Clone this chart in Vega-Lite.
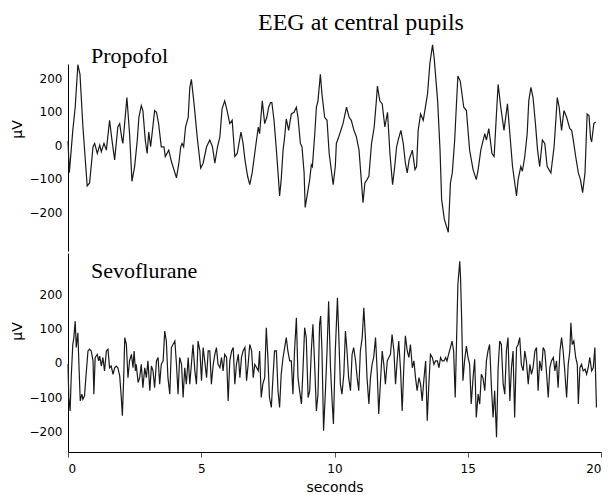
{
"$schema":"https://vega.github.io/schema/vega-lite/v6.json",
"background":"white",
"padding":{"left":10,"top":11,"right":4,"bottom":0},
"title":{"text":"EEG at central pupils","font":"Liberation Serif","fontSize":24,"fontWeight":"normal","color":"#000","anchor":"start","frame":"bounds","dx":248,"offset":7},
"config":{"view":{"stroke":null},"axis":{"labelFont":"DejaVu Sans","labelFontSize":12,"labelColor":"#000","titleFont":"DejaVu Sans","titleFontWeight":"normal","titleColor":"#000","domainColor":"#000","domainWidth":1,"grid":false}},
"datasets":{
"propofol":[
{"t":0,"v":12},{"t":0.05,"v":-82},{"t":0.18,"v":44},{"t":0.27,"v":113},{"t":0.37,"v":240},{"t":0.45,"v":211},{"t":0.56,"v":54},{"t":0.72,"v":-122},{"t":0.81,"v":-113},{"t":0.94,"v":-5},{"t":1.00,"v":5},{"t":1.10,"v":-25},{"t":1.19,"v":0},{"t":1.25,"v":-20},{"t":1.35,"v":5},{"t":1.44,"v":-15},{"t":1.56,"v":74},{"t":1.65,"v":15},{"t":1.75,"v":-44},{"t":1.87,"v":54},{"t":1.94,"v":64},{"t":2.03,"v":15},{"t":2.06,"v":5},{"t":2.21,"v":142},{"t":2.31,"v":34},{"t":2.40,"v":-108},{"t":2.50,"v":-64},{"t":2.60,"v":15},{"t":2.66,"v":83},{"t":2.75,"v":118},{"t":2.81,"v":103},{"t":2.90,"v":15},{"t":2.97,"v":-25},{"t":3.03,"v":39},{"t":3.10,"v":-5},{"t":3.19,"v":59},{"t":3.25,"v":103},{"t":3.32,"v":98},{"t":3.40,"v":64},{"t":3.50,"v":-5},{"t":3.60,"v":-5},{"t":3.65,"v":-34},{"t":3.78,"v":-15},{"t":3.88,"v":-49},{"t":4.07,"v":-98},{"t":4.16,"v":-54},{"t":4.23,"v":-5},{"t":4.28,"v":5},{"t":4.34,"v":-5},{"t":4.41,"v":54},{"t":4.51,"v":83},{"t":4.57,"v":172},{"t":4.63,"v":196},{"t":4.73,"v":123},{"t":4.86,"v":15},{"t":4.98,"v":-69},{"t":5.07,"v":-54},{"t":5.20,"v":-5},{"t":5.32,"v":15},{"t":5.42,"v":-5},{"t":5.51,"v":-54},{"t":5.61,"v":-5},{"t":5.70,"v":25},{"t":5.78,"v":108},{"t":5.88,"v":132},{"t":5.97,"v":103},{"t":6.07,"v":64},{"t":6.16,"v":74},{"t":6.26,"v":-34},{"t":6.35,"v":-25},{"t":6.49,"v":39},{"t":6.57,"v":5},{"t":6.64,"v":-44},{"t":6.74,"v":-93},{"t":6.82,"v":-118},{"t":6.91,"v":-83},{"t":7.04,"v":-5},{"t":7.14,"v":54},
{"t":7.19,"v":34},{"t":7.23,"v":74},{"t":7.29,"v":132},{"t":7.38,"v":64},{"t":7.46,"v":83},{"t":7.53,"v":113},{"t":7.60,"v":127},{"t":7.65,"v":127},{"t":7.73,"v":74},{"t":7.82,"v":-15},{"t":7.90,"v":-103},{"t":7.94,"v":-152},{"t":8.00,"v":-103},{"t":8.07,"v":-15},{"t":8.13,"v":25},{"t":8.19,"v":78},{"t":8.28,"v":44},{"t":8.38,"v":93},{"t":8.48,"v":98},{"t":8.57,"v":113},{"t":8.63,"v":83},{"t":8.72,"v":5},{"t":8.78,"v":-5},{"t":8.86,"v":-83},{"t":8.90,"v":-186},{"t":9.01,"v":-132},{"t":9.07,"v":-103},{"t":9.13,"v":-59},{"t":9.17,"v":-64},{"t":9.26,"v":34},{"t":9.32,"v":113},{"t":9.38,"v":132},{"t":9.47,"v":211},{"t":9.53,"v":152},{"t":9.63,"v":83},{"t":9.72,"v":74},{"t":9.80,"v":-25},{"t":9.95,"v":-118},{"t":10.03,"v":-64},{"t":10.07,"v":5},{"t":10.16,"v":25},{"t":10.32,"v":64},{"t":10.45,"v":113},{"t":10.55,"v":83},{"t":10.63,"v":74},{"t":10.73,"v":44},{"t":10.82,"v":25},{"t":10.92,"v":-15},{"t":11.07,"v":-172},{"t":11.14,"v":-113},{"t":11.22,"v":-103},{"t":11.29,"v":-93},{"t":11.39,"v":5},{"t":11.49,"v":54},{"t":11.57,"v":132},{"t":11.61,"v":176},{"t":11.70,"v":132},{"t":11.79,"v":123},{"t":11.89,"v":54},{"t":11.99,"v":98},{"t":12.08,"v":-25},{"t":12.18,"v":-118},{"t":12.26,"v":-64},{"t":12.33,"v":-5},{"t":12.39,"v":15},{"t":12.49,"v":44},{"t":12.58,"v":5},{"t":12.66,"v":-54},{"t":12.73,"v":-83},{"t":12.80,"v":-44},{"t":12.92,"v":-15},{"t":13.02,"v":-73},{"t":13.08,"v":-64},{"t":13.14,"v":44},{"t":13.23,"v":93},{"t":13.33,"v":74},{"t":13.39,"v":103},{"t":13.49,"v":152},{"t":13.58,"v":245},{"t":13.68,"v":299},{"t":13.74,"v":260},{"t":13.87,"v":132},{"t":13.96,"v":-15},{"t":14.02,"v":-162},{"t":14.12,"v":-221},{"t":14.27,"v":-260},
{"t":14.35,"v":-113},{"t":14.42,"v":-83},{"t":14.51,"v":15},{"t":14.57,"v":113},{"t":14.63,"v":206},{"t":14.72,"v":191},{"t":14.85,"v":113},{"t":14.95,"v":103},{"t":15.07,"v":-15},{"t":15.20,"v":-73},{"t":15.32,"v":-103},{"t":15.39,"v":-73},{"t":15.49,"v":-15},{"t":15.55,"v":5},{"t":15.64,"v":34},{"t":15.70,"v":15},{"t":15.79,"v":49},{"t":15.91,"v":-25},{"t":15.99,"v":-34},{"t":16.07,"v":83},{"t":16.14,"v":181},{"t":16.24,"v":113},{"t":16.36,"v":44},{"t":16.49,"v":123},{"t":16.58,"v":34},{"t":16.68,"v":-64},{"t":16.83,"v":-152},{"t":16.89,"v":-103},{"t":16.99,"v":-64},{"t":17.05,"v":-78},{"t":17.14,"v":-34},{"t":17.23,"v":34},{"t":17.29,"v":132},{"t":17.37,"v":172},{"t":17.45,"v":142},{"t":17.54,"v":64},{"t":17.62,"v":-15},{"t":17.70,"v":-64},{"t":17.80,"v":15},{"t":17.89,"v":5},{"t":17.98,"v":-64},{"t":18.12,"v":-83},{"t":18.24,"v":-5},{"t":18.36,"v":142},{"t":18.43,"v":113},{"t":18.52,"v":44},{"t":18.61,"v":103},{"t":18.71,"v":83},{"t":18.83,"v":49},{"t":18.90,"v":44},{"t":18.96,"v":15},{"t":19.05,"v":-34},{"t":19.15,"v":-83},{"t":19.23,"v":-103},{"t":19.31,"v":-142},{"t":19.40,"v":-83},{"t":19.48,"v":93},{"t":19.55,"v":88},{"t":19.61,"v":20},{"t":19.65,"v":10},{"t":19.73,"v":64},{"t":19.80,"v":69}
],
"sevo":[
{"t":0.00,"v":-4},{"t":0.03,"v":-101},{"t":0.08,"v":-140},{"t":0.12,"v":-43},{"t":0.18,"v":54},{"t":0.22,"v":74},{"t":0.27,"v":122},{"t":0.31,"v":45},{"t":0.37,"v":88},{"t":0.41,"v":-4},{"t":0.46,"v":-111},{"t":0.52,"v":-91},{"t":0.56,"v":-106},{"t":0.62,"v":-96},{"t":0.68,"v":-33},{"t":0.75,"v":35},{"t":0.81,"v":40},{"t":0.87,"v":35},{"t":0.94,"v":6},{"t":0.97,"v":-91},{"t":1.02,"v":16},{"t":1.10,"v":25},{"t":1.15,"v":6},{"t":1.19,"v":20},{"t":1.25,"v":-9},{"t":1.31,"v":16},{"t":1.37,"v":-23},{"t":1.44,"v":35},{"t":1.50,"v":40},{"t":1.56,"v":-14},{"t":1.62,"v":-9},{"t":1.69,"v":-33},{"t":1.75,"v":-14},{"t":1.81,"v":-9},{"t":1.87,"v":-14},{"t":1.94,"v":-38},{"t":2.00,"v":-101},{"t":2.04,"v":-154},{"t":2.09,"v":-43},{"t":2.13,"v":74},{"t":2.19,"v":54},{"t":2.25,"v":-43},{"t":2.31,"v":6},{"t":2.38,"v":25},{"t":2.44,"v":-14},{"t":2.48,"v":35},{"t":2.53,"v":-23},{"t":2.56,"v":-4},{"t":2.63,"v":-57},{"t":2.69,"v":-43},{"t":2.75,"v":-4},{"t":2.81,"v":-72},{"t":2.88,"v":-14},{"t":2.94,"v":-43},{"t":3.00,"v":6},{"t":3.07,"v":-81},{"t":3.13,"v":-9},{"t":3.19,"v":-23},{"t":3.25,"v":-72},{"t":3.32,"v":6},{"t":3.38,"v":16},{"t":3.44,"v":-62},{"t":3.50,"v":-4},{"t":3.57,"v":6},{"t":3.63,"v":93},{"t":3.69,"v":64},{"t":3.75,"v":-43},{"t":3.82,"v":-91},{"t":3.88,"v":45},{"t":3.94,"v":54},{"t":4.01,"v":64},{"t":4.07,"v":-4},{"t":4.13,"v":-91},{"t":4.19,"v":16},{"t":4.26,"v":-4},{"t":4.32,"v":-101},{"t":4.38,"v":-14},{"t":4.44,"v":-62},{"t":4.51,"v":16},{"t":4.57,"v":-62},{"t":4.63,"v":-4},{"t":4.69,"v":54},{"t":4.76,"v":-23},{"t":4.82,"v":-62},{"t":4.88,"v":64},{"t":4.95,"v":35},{"t":5.01,"v":-52},{"t":5.07,"v":45},{"t":5.13,"v":6},{"t":5.20,"v":-43},{"t":5.26,"v":35},{"t":5.32,"v":35},{"t":5.38,"v":-62},{"t":5.45,"v":-4},{"t":5.51,"v":25},{"t":5.57,"v":45},{"t":5.63,"v":-4},{"t":5.70,"v":-14},{"t":5.76,"v":16},{"t":5.82,"v":-23},{"t":5.88,"v":25},{"t":5.95,"v":16},{"t":6.01,"v":-111},{"t":6.07,"v":6},{"t":6.14,"v":35},{"t":6.20,"v":45},{"t":6.26,"v":-62},{"t":6.32,"v":-4},{"t":6.39,"v":25},{"t":6.45,"v":-43},{"t":6.51,"v":16},{"t":6.57,"v":35},{"t":6.64,"v":45},{"t":6.70,"v":-52},{"t":6.76,"v":-4},{"t":6.82,"v":54},{"t":6.89,"v":35},{"t":6.95,"v":-43},{"t":7.01,"v":-4},{"t":7.08,"v":-14},{"t":7.14,"v":-23},
{"t":7.19,"v":35},{"t":7.25,"v":-101},{"t":7.31,"v":-62},{"t":7.38,"v":-43},{"t":7.44,"v":103},{"t":7.50,"v":16},{"t":7.56,"v":-101},{"t":7.63,"v":-130},{"t":7.69,"v":-43},{"t":7.75,"v":35},{"t":7.82,"v":35},{"t":7.88,"v":-81},{"t":7.94,"v":-130},{"t":8.00,"v":-33},{"t":8.07,"v":16},{"t":8.13,"v":45},{"t":8.19,"v":74},{"t":8.25,"v":35},{"t":8.32,"v":6},{"t":8.38,"v":6},{"t":8.44,"v":-91},{"t":8.50,"v":35},{"t":8.57,"v":132},{"t":8.63,"v":-43},{"t":8.69,"v":-81},{"t":8.76,"v":-120},{"t":8.82,"v":-14},{"t":8.88,"v":103},{"t":8.94,"v":74},{"t":9.01,"v":-101},{"t":9.07,"v":-81},{"t":9.13,"v":35},{"t":9.19,"v":113},{"t":9.26,"v":-14},{"t":9.32,"v":-140},{"t":9.38,"v":-91},{"t":9.44,"v":113},{"t":9.48,"v":137},{"t":9.53,"v":35},{"t":9.59,"v":-198},{"t":9.66,"v":-81},{"t":9.72,"v":35},{"t":9.78,"v":180},{"t":9.85,"v":-14},{"t":9.91,"v":-111},{"t":9.96,"v":-178},{"t":10.03,"v":35},{"t":10.11,"v":190},{"t":10.16,"v":83},{"t":10.22,"v":-62},{"t":10.28,"v":-91},{"t":10.35,"v":-33},{"t":10.41,"v":93},{"t":10.47,"v":35},{"t":10.53,"v":-43},{"t":10.60,"v":-81},{"t":10.66,"v":25},{"t":10.72,"v":45},{"t":10.79,"v":6},{"t":10.85,"v":-43},{"t":10.91,"v":-81},{"t":10.97,"v":35},{"t":11.04,"v":74},{"t":11.10,"v":161},{"t":11.16,"v":74},{"t":11.22,"v":-43},{"t":11.29,"v":-120},{"t":11.35,"v":-43},{"t":11.41,"v":-4},{"t":11.47,"v":16},{"t":11.54,"v":74},{"t":11.60,"v":-23},{"t":11.66,"v":-149},{"t":11.72,"v":-62},{"t":11.79,"v":35},{"t":11.85,"v":-4},{"t":11.91,"v":-62},{"t":11.98,"v":6},{"t":12.04,"v":16},{"t":12.10,"v":25},{"t":12.16,"v":83},{"t":12.23,"v":35},{"t":12.29,"v":-62},{"t":12.35,"v":6},{"t":12.41,"v":64},{"t":12.48,"v":-23},{"t":12.54,"v":-140},{"t":12.60,"v":-14},{"t":12.66,"v":79},{"t":12.73,"v":35},{"t":12.79,"v":16},{"t":12.85,"v":54},{"t":12.92,"v":-14},{"t":12.98,"v":6},{"t":13.04,"v":-43},{"t":13.10,"v":-81},{"t":13.17,"v":-43},{"t":13.23,"v":-62},{"t":13.29,"v":-111},{"t":13.35,"v":-52},{"t":13.42,"v":6},{"t":13.48,"v":-169},{"t":13.54,"v":-62},{"t":13.60,"v":25},{"t":13.67,"v":16},{"t":13.73,"v":-4},{"t":13.79,"v":6},{"t":13.86,"v":6},{"t":13.92,"v":-14},{"t":13.98,"v":16},{"t":14.04,"v":6},{"t":14.11,"v":6},{"t":14.17,"v":16},
{"t":14.22,"v":6},{"t":14.28,"v":25},{"t":14.35,"v":45},{"t":14.41,"v":64},{"t":14.47,"v":35},{"t":14.53,"v":-101},{"t":14.60,"v":132},{"t":14.63,"v":229},{"t":14.70,"v":297},{"t":14.73,"v":248},{"t":14.77,"v":132},{"t":14.82,"v":-52},{"t":14.88,"v":6},{"t":14.95,"v":49},{"t":15.01,"v":16},{"t":15.07,"v":-4},{"t":15.13,"v":-120},{"t":15.20,"v":-43},{"t":15.26,"v":11},{"t":15.32,"v":-159},{"t":15.39,"v":-91},{"t":15.45,"v":-120},{"t":15.51,"v":-33},{"t":15.57,"v":-43},{"t":15.64,"v":-81},{"t":15.70,"v":6},{"t":15.76,"v":35},{"t":15.82,"v":54},{"t":15.89,"v":-72},{"t":15.95,"v":-159},{"t":16.01,"v":-81},{"t":16.08,"v":-217},{"t":16.14,"v":-14},{"t":16.20,"v":64},{"t":16.26,"v":54},{"t":16.33,"v":-62},{"t":16.39,"v":-91},{"t":16.45,"v":35},{"t":16.51,"v":74},{"t":16.58,"v":-111},{"t":16.64,"v":-14},{"t":16.70,"v":35},{"t":16.76,"v":-159},{"t":16.83,"v":45},{"t":16.89,"v":54},{"t":16.95,"v":74},{"t":17.01,"v":-4},{"t":17.08,"v":-23},{"t":17.14,"v":35},{"t":17.20,"v":6},{"t":17.27,"v":-62},{"t":17.33,"v":-4},{"t":17.39,"v":-33},{"t":17.45,"v":-14},{"t":17.52,"v":35},{"t":17.58,"v":45},{"t":17.64,"v":-81},{"t":17.70,"v":6},{"t":17.77,"v":-23},{"t":17.83,"v":45},{"t":17.89,"v":35},{"t":17.95,"v":-23},{"t":18.02,"v":-101},{"t":18.08,"v":-14},{"t":18.14,"v":6},{"t":18.21,"v":16},{"t":18.27,"v":-23},{"t":18.33,"v":6},{"t":18.39,"v":-72},{"t":18.46,"v":35},{"t":18.52,"v":74},{"t":18.58,"v":35},{"t":18.64,"v":-23},{"t":18.71,"v":-101},{"t":18.77,"v":-4},{"t":18.83,"v":35},{"t":18.87,"v":117},{"t":18.92,"v":54},{"t":18.98,"v":64},{"t":19.05,"v":16},{"t":19.11,"v":-4},{"t":19.15,"v":-120},{"t":19.21,"v":-14},{"t":19.27,"v":-4},{"t":19.33,"v":-23},{"t":19.40,"v":-18},{"t":19.46,"v":-33},{"t":19.52,"v":-14},{"t":19.58,"v":16},{"t":19.65,"v":-23},{"t":19.71,"v":-14},{"t":19.77,"v":45},{"t":19.83,"v":-130}
]
},
"vconcat":[
{"width":533,"height":187,
 "title":{"text":"Propofol","font":"Liberation Serif","fontSize":22,"fontWeight":"normal","color":"#000","anchor":"start","frame":"group","dx":23,"offset":-26},
 "data":{"name":"propofol"},
 "mark":{"type":"line","color":"#1a1a1a","strokeWidth":1.2},
 "encoding":{
  "x":{"field":"t","type":"quantitative","scale":{"domain":[0,20],"nice":false},"axis":null},
  "y":{"field":"v","type":"quantitative","scale":{"domain":[-316,242],"nice":false,"zero":false},
       "axis":{"values":[-200,-100,0,100,200],"ticks":false,"tickSize":0,"labelPadding":6,"title":"μV","titleFontSize":14,"titleX":-47,"titleY":65,"titleBaseline":"alphabetic"}}
 }
},
{"width":533,"height":199,
 "title":{"text":"Sevoflurane","font":"Liberation Serif","fontSize":22,"fontWeight":"normal","color":"#000","anchor":"start","frame":"group","dx":23,"offset":-30},
 "data":{"name":"sevo"},
 "mark":{"type":"line","color":"#1a1a1a","strokeWidth":1.2},
 "encoding":{
  "x":{"field":"t","type":"quantitative","scale":{"domain":[0,20],"nice":false},
       "axis":{"values":[0,5,10,15,20],"tickSize":5,"tickColor":"#555","labelPadding":6,"title":"seconds","titleFontSize":14,"titlePadding":6}},
  "y":{"field":"v","type":"quantitative","scale":{"domain":[-260,321],"nice":false,"zero":false},
       "axis":{"values":[-200,-100,0,100,200],"ticks":false,"tickSize":0,"labelPadding":6,"title":"μV","titleFontSize":14,"titleX":-47,"titleY":78,"titleBaseline":"alphabetic"}}
 }
}
],
"spacing":2,
"bounds":"flush",
"resolve":{"scale":{"x":"independent","y":"independent"}}
}
